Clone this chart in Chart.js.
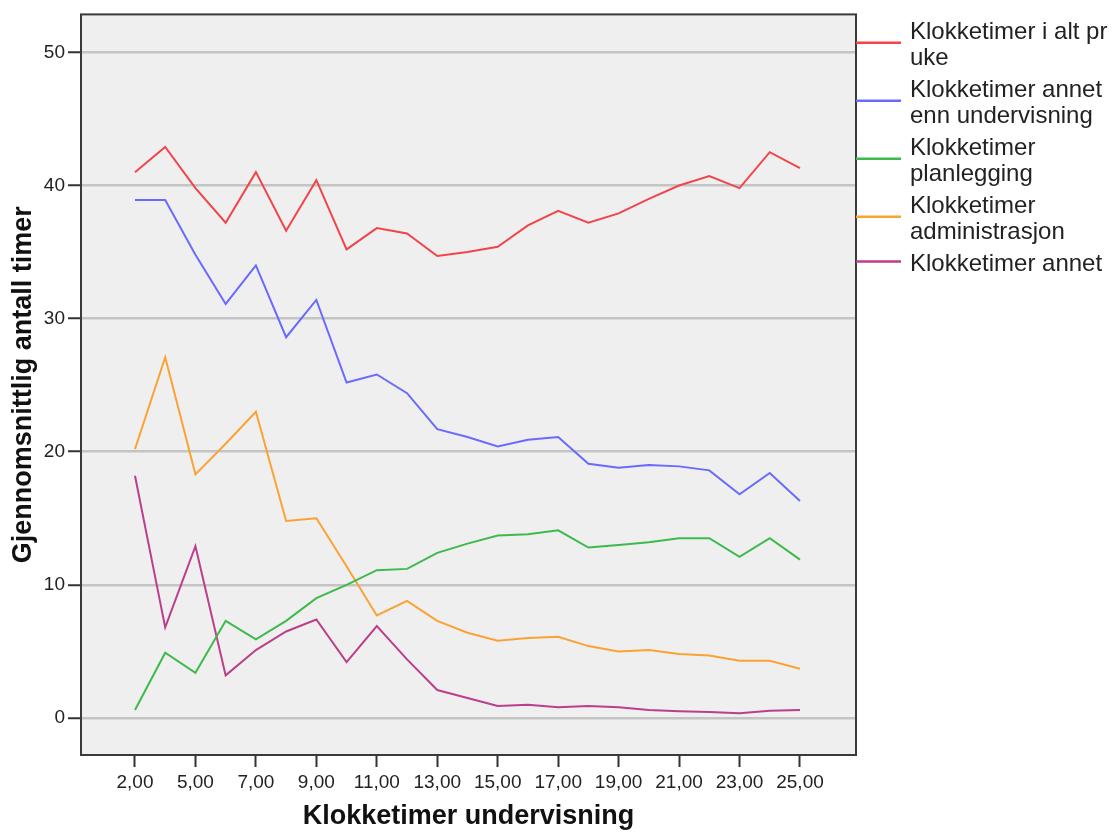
<!DOCTYPE html>
<html>
<head>
<meta charset="utf-8">
<title>Klokketimer undervisning</title>
<script src="https://cdn.jsdelivr.net/npm/chart.js@4.4.1/dist/chart.umd.min.js"></script>
<style>
  html, body { margin: 0; padding: 0; background: #ffffff; }
  #wrap { width: 1118px; height: 832px; position: relative; }
</style>
</head>
<body>
<div id="wrap"><canvas id="chart"></canvas></div>
<script>
// Teaching hours per week (category axis)
const categories = ['2,00', '4,00', '5,00', '6,00', '7,00', '8,00', '9,00', '10,00', '11,00', '12,00',
  '13,00', '14,00', '15,00', '16,00', '17,00', '18,00', '19,00', '20,00', '21,00', '22,00',
  '23,00', '24,00', '25,00'];

// Average hours per category
const totalPerWeek = [41.0, 42.9, 39.8, 37.2, 41.0, 36.6, 40.4, 35.2, 36.8, 36.4,
  34.7, 35.0, 35.4, 37.0, 38.1, 37.2, 37.9, 39.0, 40.0, 40.7,
  39.8, 42.5, 41.3];
const otherThanTeaching = [38.9, 38.9, 34.8, 31.1, 34.0, 28.6, 31.4, 25.2, 25.8, 24.4,
  21.7, 21.1, 20.4, 20.9, 21.1, 19.1, 18.8, 19.0, 18.9, 18.6,
  16.8, 18.4, 16.3];
const planning = [0.6, 4.9, 3.4, 7.3, 5.9, 7.3, 9.0, 10.0, 11.1, 11.2,
  12.4, 13.1, 13.7, 13.8, 14.1, 12.8, 13.0, 13.2, 13.5, 13.5,
  12.1, 13.5, 11.9];
const administration = [20.2, 27.1, 18.3, 20.6, 23.0, 14.8, 15.0, 11.4, 7.7, 8.8,
  7.3, 6.4, 5.8, 6.0, 6.1, 5.4, 5.0, 5.1, 4.8, 4.7,
  4.3, 4.3, 3.7];
const other = [18.2, 6.8, 12.9, 3.2, 5.1, 6.5, 7.4, 4.2, 6.9, 4.4,
  2.1, 1.5, 0.9, 1.0, 0.8, 0.9, 0.8, 0.6, 0.5, 0.45,
  0.35, 0.55, 0.6];

// Legend text, one entry per series, split into its lines
const seriesNames = [
  ['Klokketimer i alt pr', 'uke'],
  ['Klokketimer annet', 'enn undervisning'],
  ['Klokketimer', 'planlegging'],
  ['Klokketimer', 'administrasjon'],
  ['Klokketimer annet']
];
const seriesColors = ['#f0464b', '#6a6aff', '#3dba4c', '#fba235', '#bb3f8b'];
const yTicks = [0, 10, 20, 30, 40, 50];

const FONT = '"Liberation Sans", Arial, Helvetica, sans-serif';
const seriesValues = [totalPerWeek, otherThanTeaching, planning, administration, other];

const datasets = seriesValues.map((vals, s) => ({
  label: seriesNames[s].join(' '),
  data: vals.map((y, i) => ({ x: i, y: y })),
  borderColor: seriesColors[s],
  backgroundColor: seriesColors[s],
  borderWidth: 2,
  pointRadius: 0,
  pointHoverRadius: 0,
  tension: 0,
  fill: false
}));

// Grey plot background and dark frame around the plot area
const plotFrame = {
  id: 'plotFrame',
  beforeDraw(chart) {
    const { ctx, chartArea: a } = chart;
    ctx.save();
    ctx.fillStyle = '#efefef';
    ctx.fillRect(a.left, a.top, a.right - a.left, a.bottom - a.top);
    ctx.restore();
  },
  afterDatasetsDraw(chart) {
    const { ctx, chartArea: a } = chart;
    ctx.save();
    ctx.strokeStyle = '#3a3a3a';
    ctx.lineWidth = 2;
    ctx.strokeRect(a.left, a.top, a.right - a.left, a.bottom - a.top);
    ctx.restore();
  }
};

// Multi-line legend to the right of the plot
const sideLegend = {
  id: 'sideLegend',
  afterDraw(chart) {
    const { ctx, chartArea: a } = chart;
    const x0 = a.right;
    const lineLen = 45;
    const textX = x0 + 54;
    const lineH = 26.5;
    const entryH = 58;
    ctx.save();
    ctx.font = '24px ' + FONT;
    ctx.fillStyle = '#222222';
    ctx.textBaseline = 'alphabetic';
    ctx.textAlign = 'left';
    seriesNames.forEach((lines, s) => {
      const base = 38.5 + entryH * s;
      lines.forEach((t, k) => ctx.fillText(t, textX, base + k * lineH));
      const markY = base - 9 + (lines.length - 1) * lineH / 2;
      ctx.strokeStyle = seriesColors[s];
      ctx.lineWidth = 2.5;
      ctx.beginPath();
      ctx.moveTo(x0, markY);
      ctx.lineTo(x0 + lineLen, markY);
      ctx.stroke();
    });
    ctx.restore();
  }
};

new Chart(document.getElementById('chart'), {
  type: 'line',
  data: { datasets: datasets },
  plugins: [plotFrame, sideLegend],
  options: {
    responsive: true,
    maintainAspectRatio: false,
    animation: false,
    events: [],
    layout: { padding: { left: 0, right: 262, top: 14, bottom: 0 } },
    plugins: {
      legend: { display: false },
      tooltip: { enabled: false },
      title: { display: false }
    },
    scales: {
      x: {
        type: 'linear',
        min: -1.786,
        max: 23.853,
        afterBuildTicks(scale) {
          scale.ticks = categories.map((c, i) => ({ value: i })).filter(t => t.value % 2 === 0);
        },
        afterFit(scale) { scale.height = 77; },
        border: { display: false },
        grid: {
          drawOnChartArea: false,
          drawTicks: true,
          tickLength: 12,
          tickColor: '#333333',
          tickWidth: 2,
          color: '#333333'
        },
        ticks: {
          autoSkip: false,
          maxRotation: 0,
          padding: 4,
          color: '#222222',
          font: { family: FONT, size: 19 },
          callback: (v) => categories[v]
        },
        title: {
          display: true,
          text: 'Klokketimer undervisning',
          color: '#111111',
          font: { family: FONT, size: 27, weight: 'bold', lineHeight: 1 },
          padding: { top: 0, bottom: 2 }
        }
      },
      y: {
        type: 'linear',
        min: -2.78,
        max: 52.85,
        afterBuildTicks(scale) {
          scale.ticks = yTicks.map(v => ({ value: v }));
        },
        afterFit(scale) { scale.width = 81; },
        border: { display: false },
        grid: {
          color: '#c4c4c4',
          lineWidth: 2.5,
          drawTicks: true,
          tickLength: 13,
          tickColor: '#333333',
          tickWidth: 2
        },
        ticks: {
          padding: 3,
          color: '#222222',
          font: { family: FONT, size: 19 },
          callback: (v) => String(v)
        },
        title: {
          display: true,
          text: 'Gjennomsnittlig antall timer',
          color: '#111111',
          font: { family: FONT, size: 27, weight: 'bold', lineHeight: 1 },
          padding: { top: 10, bottom: 0 }
        }
      }
    }
  }
});
</script>
</body>
</html>
